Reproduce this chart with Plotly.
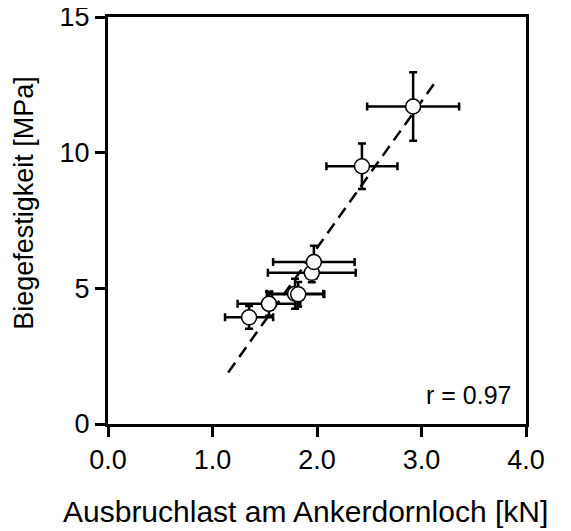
import numpy as np
import plotly.graph_objects as go

# Data
ausbruchlast = [1.35, 1.54, 1.79, 1.82, 1.95, 1.97, 2.43, 2.92]          # kN
ausbruchlast_err = [0.23, 0.30, 0.27, 0.25, 0.42, 0.39, 0.34, 0.44]
biegefestigkeit = [3.93, 4.43, 4.80, 4.78, 5.57, 5.97, 9.50, 11.70]     # MPa
biegefestigkeit_err = [0.42, 0.44, 0.55, 0.45, 0.35, 0.60, 0.84, 1.26]
fit_x_range = [1.15, 3.13]
x_ticks = [0, 1, 2, 3, 4]
x_tick_labels = ["0.0", "1.0", "2.0", "3.0", "4.0"]
y_ticks = [0, 5, 10, 15]
r_label = "r = 0.97"

slope, intercept = np.polyfit(ausbruchlast, biegefestigkeit, 1)
fit_x = np.array(fit_x_range)
fit_y = slope * fit_x + intercept

FONT = "Liberation Sans, Arial, sans-serif"

fig = go.Figure()
fig.add_trace(go.Scatter(
    x=fit_x, y=fit_y, mode="lines",
    line=dict(color="black", width=2.5, dash="12px,7px"),
    hoverinfo="skip", showlegend=False,
))
fig.add_trace(go.Scatter(
    x=ausbruchlast, y=biegefestigkeit, mode="markers",
    marker=dict(symbol="circle", size=15, color="white",
                line=dict(color="black", width=1.5)),
    error_x=dict(type="data", array=ausbruchlast_err, color="black",
                 thickness=2.5, width=4),
    error_y=dict(type="data", array=biegefestigkeit_err, color="black",
                 thickness=2.5, width=4),
    showlegend=False,
))

# page body has an 8px margin, so the figure is sized to fit the window
fig.update_layout(
    width=563, height=523,
    margin=dict(l=100, r=45, t=9, b=107),
    paper_bgcolor="white", plot_bgcolor="white",
    font=dict(family=FONT, color="black"),
    showlegend=False,
)
fig.update_xaxes(
    range=[0, 4], tickvals=x_ticks, ticktext=x_tick_labels,
    showgrid=False, zeroline=False, automargin=False,
    ticklabeloverflow="allow",
    showline=True, linecolor="black", linewidth=3, mirror=True,
    ticks="outside", ticklen=10, tickwidth=3, tickcolor="black",
    tickfont=dict(size=27, family=FONT),
)
fig.update_yaxes(
    range=[0, 15], tickvals=y_ticks,
    showgrid=False, zeroline=False, automargin=False,
    ticklabeloverflow="allow",
    showline=True, linecolor="black", linewidth=3, mirror=True,
    ticks="outside", ticklen=10, tickwidth=3, tickcolor="black",
    tickfont=dict(size=27, family=FONT),
)
fig.add_annotation(
    text="Ausbruchlast am Ankerdornloch [kN]", xref="paper", yref="paper",
    x=(305.5 - 108.3) / 417.4, y=-(512 - 424.3) / 407.0,
    xanchor="center", yanchor="middle", showarrow=False,
    font=dict(size=30, family=FONT),
)
fig.add_annotation(
    text="Biegefestigkeit [MPa]", xref="paper", yref="paper",
    x=-(108.3 - 25) / 417.4, y=(424.3 - 203.5) / 407.0,
    xanchor="center", yanchor="middle", showarrow=False, textangle=-90,
    font=dict(size=27, family=FONT),
)
fig.add_annotation(
    text=r_label, x=3.88, y=1.08, xanchor="right", yanchor="middle",
    showarrow=False, font=dict(size=25, family=FONT),
)

fig.write_html("out.html")
